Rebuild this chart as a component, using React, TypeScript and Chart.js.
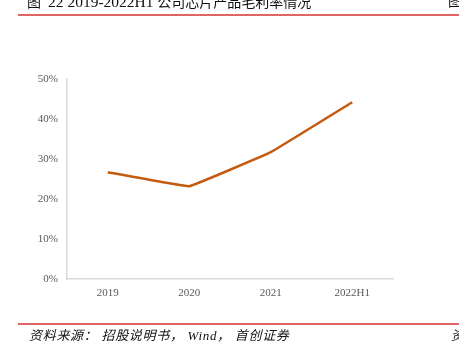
import React, { useEffect, useRef } from "react";
import { Chart, registerables } from "chart.js";

Chart.register(...registerables);

const categories = ["2019", "2020", "2021", "2022H1"];
const grossMargin = [26.7, 23.2, 31.7, 44.2];
const yTicks = [0, 10, 20, 30, 40, 50];
const titleLead = "图  ";
const titleNumber = "22 2019-2022H1 ";
const titleRest = "公司芯片产品毛利率情况";
const sourceText = "资料来源： 招股说明书， Wind， 首创证券";

const FONT = '"Liberation Serif", "Times New Roman", "Noto Sans CJK SC", serif';

export default function App() {
  const ref = useRef<HTMLCanvasElement | null>(null);

  useEffect(() => {
    if (!ref.current) return;
    const chart = new Chart(ref.current, {
      type: "line",
      data: {
        labels: categories,
        datasets: [
          {
            data: grossMargin,
            borderColor: "#c55a11",
            borderWidth: 2.5,
            pointRadius: 0,
            tension: 0.05,
            fill: false,
          },
        ],
      },
      options: {
        animation: false,
        responsive: false,
        maintainAspectRatio: false,
        layout: { padding: { left: 0, right: 66, top: 79, bottom: 0 } },
        plugins: { legend: { display: false }, tooltip: { enabled: false } },
        scales: {
          x: {
            offset: true,
            grid: { display: false, drawTicks: false },
            border: { display: true, color: "#d9d9d9", width: 1.5 },
            ticks: {
              color: "#595959",
              padding: 8,
              font: { family: FONT, size: 11 },
            },
            afterFit: (s: any) => {
              s.height = 73;
            },
          },
          y: {
            min: 0,
            max: 50,
            afterBuildTicks: (s: any) => {
              s.ticks = yTicks.map((v) => ({ value: v }));
            },
            grid: { display: false, drawTicks: false },
            border: { display: true, color: "#d9d9d9", width: 1.5 },
            ticks: {
              color: "#595959",
              padding: 9,
              font: { family: FONT, size: 11 },
              callback: (v: any) => `${v}%`,
            },
            afterFit: (s: any) => {
              s.width = 67;
            },
          },
        },
      },
    });
    return () => chart.destroy();
  }, []);

  const textBase: React.CSSProperties = {
    position: "absolute",
    fontFamily: FONT,
    color: "#111",
    whiteSpace: "pre",
  };

  return (
    <div style={{ position: "fixed", left: 0, top: 0, width: 459, height: 352, background: "#fff", overflow: "hidden" }}>
      <canvas ref={ref} width={459} height={352} style={{ position: "absolute", left: 0, top: 0 }} />
      <div style={{ ...textBase, left: 27, top: -5, fontSize: 14, lineHeight: "14px" }}>
        {titleLead}
        <span style={{ fontSize: 15.5 }}>{titleNumber}</span>
        {titleRest}
      </div>
      <div style={{ ...textBase, left: 448, top: -5, fontSize: 14, lineHeight: "14px" }}>图</div>
      <div style={{ position: "absolute", left: 18, right: 0, top: 14, height: 2, background: "#e06666" }} />
      <div style={{ position: "absolute", left: 18, right: 0, top: 323, height: 2, background: "#e06666" }} />
      <div
        style={{
          ...textBase,
          left: 29,
          top: 329,
          fontSize: 13,
          lineHeight: "13px",
          fontStyle: "italic",
          letterSpacing: "0.7px",
        }}
      >
        {sourceText}
      </div>
      <div style={{ ...textBase, left: 451, top: 329, fontSize: 13, lineHeight: "13px", fontStyle: "italic" }}>资</div>
    </div>
  );
}
